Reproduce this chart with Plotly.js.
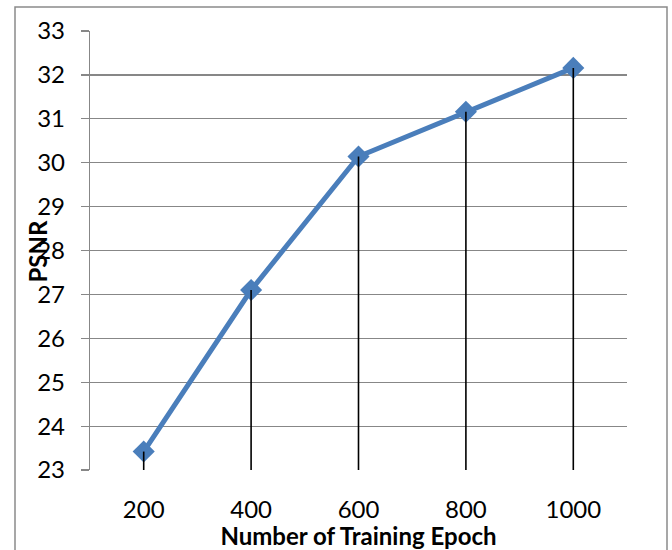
<!DOCTYPE html>
<html><head><meta charset="utf-8">
<script src="https://cdn.plot.ly/plotly-3.0.1.min.js"></script>
<style>html,body{margin:0;padding:0;background:#fff}#chart{width:672px;height:550px}</style>
</head><body><div id="chart"></div>
<script>
// ---- data ----
const epochs = ['200', '400', '600', '800', '1000'];
const psnr = [23.42, 27.1, 30.14, 31.16, 32.16];
const yTickVals = [23, 24, 25, 26, 27, 28, 29, 30, 31, 32, 33];
const yBase = 23;
const xTitle = 'Number of Training Epoch';
const yTitle = 'PSNR';

// ---- drop lines built from the data ----
const dropX = [], dropY = [];
epochs.forEach((e, i) => { dropX.push(e, e, null); dropY.push(psnr[i], yBase, null); });

const W = 672, H = 550;
const M = {l: 90, r: 45, t: 31, b: 80};
const pw = W - M.l - M.r, ph = H - M.t - M.b;
const px = v => (v - M.l) / pw;
const py = v => 1 - (v - M.t) / ph;

const font = 'Lato, "Open Sans", "DejaVu Sans", sans-serif';
const grid = '#878787';

const traces = [
  {
    x: epochs, y: psnr, type: 'scatter', mode: 'lines+markers',
    line: {color: '#4A7EBB', width: 5},
    marker: {symbol: 'diamond', size: 17, color: '#4A7EBB'},
    hoverinfo: 'x+y', showlegend: false
  },
  {
    x: dropX, y: dropY, type: 'scatter', mode: 'lines',
    line: {color: '#000000', width: 1.6},
    hoverinfo: 'skip', showlegend: false
  }
];

const layout = {
  width: W, height: H,
  margin: M,
  paper_bgcolor: '#ffffff', plot_bgcolor: '#ffffff',
  font: {family: font, color: '#000000', size: 24},
  showlegend: false,
  xaxis: {
    type: 'category', range: [-0.5, 4.5],
    showgrid: false, zeroline: false, showline: false,
    ticks: '', tickfont: {size: 24, family: font},
    ticklabelstandoff: 23,
    title: {text: '<b>' + xTitle + '</b>', font: {size: 24, family: font}, standoff: 4}
  },
  yaxis: {
    range: [23, 33], tickvals: yTickVals,
    showgrid: true, gridcolor: grid, gridwidth: 1.2,
    zeroline: false, showline: true, linecolor: grid, linewidth: 1.2,
    ticks: 'outside', ticklen: 8, tickcolor: grid, tickwidth: 1.2,
    tickfont: {size: 24, family: font},
    ticklabelstandoff: 11
  },
  annotations: [{
    text: '<b>' + yTitle + '</b>', xref: 'paper', yref: 'paper',
    x: px(37), y: 0.5, xanchor: 'center', yanchor: 'middle',
    textangle: -90, showarrow: false, font: {size: 24, family: font}
  }],
  shapes: [{
    type: 'rect', xref: 'paper', yref: 'paper', layer: 'below',
    x0: px(15), x1: px(667), y0: py(600), y1: py(7),
    line: {color: '#8a8a8a', width: 1.5}, fillcolor: 'rgba(0,0,0,0)'
  }]
};

Plotly.newPlot('chart', traces, layout, {displayModeBar: false, staticPlot: true});
</script>
</body></html>
